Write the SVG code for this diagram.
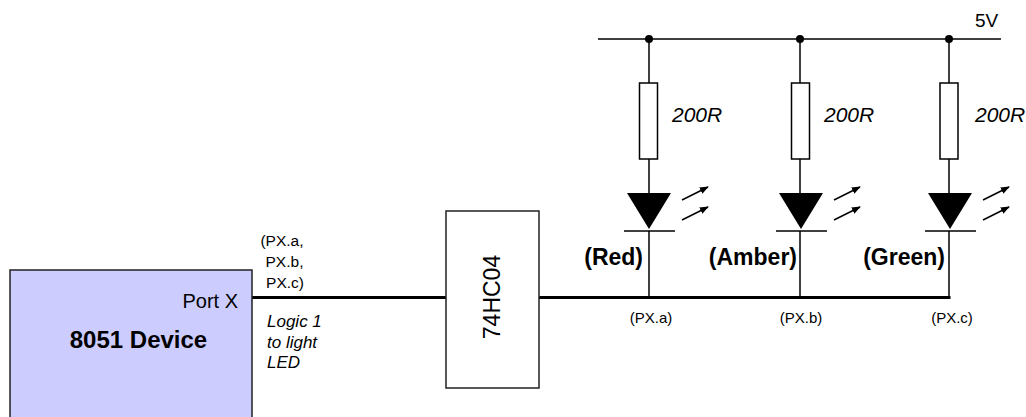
<svg xmlns="http://www.w3.org/2000/svg" width="1026" height="417" viewBox="0 0 1026 417">
<style>
text{font-family:"Liberation Sans",Arial,sans-serif;fill:#000}
.w{stroke:#000;stroke-width:1.5;fill:none}
.bus{stroke:#000;stroke-width:3;fill:none}
.res{fill:#fff;stroke:#000;stroke-width:1.5}
.it{font-style:italic}
.b{font-weight:bold}
</style>
<defs>
<marker id="ah" viewBox="0 0 10 10" refX="9" refY="5" markerWidth="9" markerHeight="9" markerUnits="userSpaceOnUse" orient="auto">
<path d="M0,1 L10,5 L0,9 Z" fill="#000"/>
</marker>
<g id="led">
<path d="M-22,0 L22,0 L0,36 Z" fill="#000"/>
<line x1="-25" y1="38" x2="26" y2="38" class="w"/>
<line x1="33" y1="7" x2="59" y2="-6" class="w" marker-end="url(#ah)"/>
<line x1="33" y1="27" x2="59" y2="14" class="w" marker-end="url(#ah)"/>
</g>
</defs>
<g id="connectors">
<line x1="598" y1="39" x2="1001" y2="39" class="w"/>
<line x1="649" y1="39" x2="649" y2="83" class="w"/>
<line x1="800" y1="39" x2="800" y2="83" class="w"/>
<line x1="949" y1="39" x2="949" y2="83" class="w"/>
<line x1="649" y1="159" x2="649" y2="193" class="w"/>
<line x1="800" y1="159" x2="800" y2="193" class="w"/>
<line x1="949" y1="159" x2="949" y2="193" class="w"/>
<line x1="649" y1="231" x2="649" y2="297" class="w"/>
<line x1="800" y1="231" x2="800" y2="297" class="w"/>
<line x1="949" y1="231" x2="949" y2="297" class="w"/>
<line x1="252" y1="297.5" x2="446" y2="297.5" class="bus"/>
<line x1="539" y1="297.5" x2="950.5" y2="297.5" class="bus"/>
<circle cx="649" cy="39" r="4" fill="#000"/>
<circle cx="800" cy="39" r="4" fill="#000"/>
<circle cx="949" cy="39" r="4" fill="#000"/>
</g>
<text x="975" y="27" font-size="19">5V</text>
<g id="device">
<rect x="10" y="270" width="242" height="160" fill="#ccccff" stroke="#222" stroke-width="1.5"/>
<text x="238" y="308" font-size="20" text-anchor="end">Port X</text>
<text x="138.5" y="348" font-size="24" class="b" text-anchor="middle">8051 Device</text>
</g>
<g id="port-labels">
<text font-size="15.5" text-anchor="middle"><tspan x="282" y="246">(PX.a,</tspan><tspan x="284.5" y="267">PX.b,</tspan><tspan x="285" y="288">PX.c)</tspan></text>
<text font-size="17" class="it"><tspan x="267" y="327">Logic 1</tspan><tspan x="267" y="348">to light</tspan><tspan x="267" y="368">LED</tspan></text>
</g>
<g id="ic74hc04">
<rect x="446" y="211" width="93" height="177" fill="#fff" stroke="#222" stroke-width="1.5"/>
<text x="0" y="0" font-size="23" text-anchor="middle" transform="translate(500,297) rotate(-90)">74HC04</text>
</g>
<g id="r1"><rect x="639.5" y="83" width="18" height="76" class="res"/><text x="672" y="122" font-size="21" class="it">200R</text></g>
<g id="r2"><rect x="791.5" y="83" width="18" height="76" class="res"/><text x="824" y="122" font-size="21" class="it">200R</text></g>
<g id="r3"><rect x="940" y="83" width="18" height="76" class="res"/><text x="975" y="122" font-size="21" class="it">200R</text></g>
<g id="led-red"><use href="#led" x="649" y="193"/><text x="643" y="265" font-size="23" class="b" text-anchor="end">(Red)</text><text x="651" y="323" font-size="15" text-anchor="middle">(PX.a)</text></g>
<g id="led-amber"><use href="#led" x="801" y="193"/><text x="797" y="265" font-size="23" class="b" text-anchor="end">(Amber)</text><text x="801" y="323" font-size="15" text-anchor="middle">(PX.b)</text></g>
<g id="led-green"><use href="#led" x="950" y="193"/><text x="945" y="265" font-size="23" class="b" text-anchor="end">(Green)</text><text x="952" y="323" font-size="15" text-anchor="middle">(PX.c)</text></g>
</svg>
